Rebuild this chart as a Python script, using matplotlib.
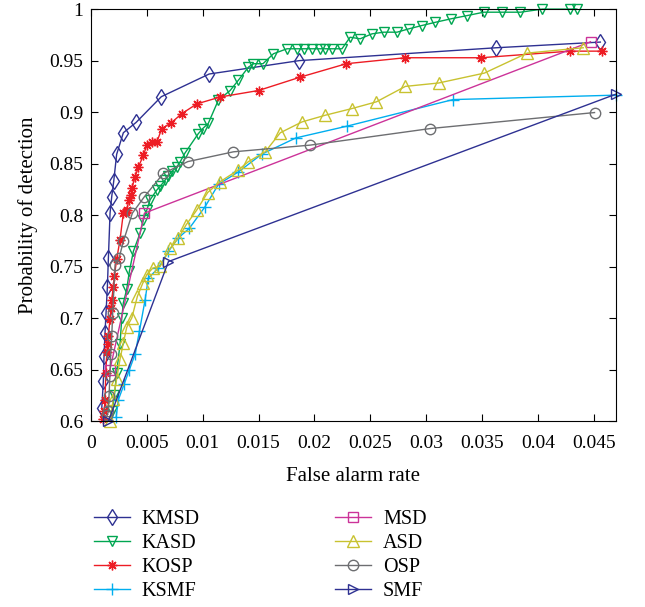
import matplotlib
matplotlib.use("Agg")
import matplotlib.pyplot as plt
import numpy as np
from matplotlib.ticker import FormatStrFormatter

plt.rcParams["font.family"] = ["Liberation Serif", "DejaVu Serif"]

# ---- data -----------------------------------------------------------------
kmsd_x = [0.00097, 0.00111, 0.00117, 0.00126, 0.00135, 0.00147, 0.00156, 0.00171,
          0.00186, 0.00204, 0.0023, 0.0029, 0.00404, 0.0063, 0.01058, 0.01865,
          0.0363, 0.0456]
kmsd_y = [0.613, 0.639, 0.663, 0.686, 0.705, 0.730, 0.758, 0.802,
          0.818, 0.833, 0.859, 0.880, 0.890, 0.915, 0.937, 0.950,
          0.9625, 0.968]

kasd_x = [0.0019, 0.0021, 0.0023, 0.0026, 0.00276, 0.0029, 0.0032, 0.00344, 0.0038,
          0.0044, 0.0047, 0.005, 0.0053, 0.0059, 0.0062, 0.00664, 0.0069, 0.0073,
          0.0077, 0.008, 0.0084, 0.0096, 0.0100, 0.0105, 0.0114, 0.01246, 0.0132,
          0.0141, 0.01455, 0.0154, 0.01634, 0.01755, 0.01844, 0.01903, 0.01978,
          0.02053, 0.02098, 0.02158, 0.02247, 0.0232, 0.0241, 0.02516, 0.0262,
          0.0274, 0.02844, 0.0296, 0.03083, 0.0322, 0.03367, 0.03516, 0.0368,
          0.03845, 0.0404, 0.0429, 0.0435]
kasd_y = [0.61, 0.625, 0.647, 0.6746, 0.700, 0.715, 0.728, 0.7455, 0.765,
          0.7826, 0.7955, 0.805, 0.815, 0.8245, 0.828, 0.834, 0.838, 0.843,
          0.847, 0.852, 0.86, 0.879, 0.884, 0.889, 0.9115, 0.921, 0.931,
          0.9437, 0.947, 0.947, 0.9567, 0.9615, 0.9615, 0.9615, 0.9615,
          0.9615, 0.9615, 0.9615, 0.9615, 0.9727, 0.9712, 0.976, 0.9776,
          0.9776, 0.9808, 0.984, 0.9872, 0.9905, 0.9937, 0.997, 0.997,
          0.997, 1.0, 1.0, 1.0]

kosp_x = [0.00111, 0.0012, 0.00126, 0.00133, 0.00142, 0.0015, 0.00156, 0.0017,
          0.0018, 0.00186, 0.002, 0.0021, 0.0023, 0.0026, 0.0029, 0.0031, 0.0032,
          0.0034, 0.0036, 0.00365, 0.00395, 0.00425, 0.0047, 0.005, 0.00545,
          0.0059, 0.00634, 0.00718, 0.00814, 0.00948, 0.01157, 0.015, 0.01874,
          0.02286, 0.02815, 0.03493, 0.04287, 0.04577]
kosp_y = [0.602, 0.61, 0.621, 0.647, 0.667, 0.675, 0.683, 0.699,
          0.71, 0.718, 0.73, 0.741, 0.757, 0.776, 0.802, 0.803, 0.805,
          0.815, 0.82, 0.826, 0.837, 0.847, 0.858, 0.868, 0.871,
          0.871, 0.884, 0.8896, 0.8986, 0.908, 0.9147, 0.921, 0.934,
          0.947, 0.9528, 0.9528, 0.9592, 0.9592]

ksmf_x = [0.00225, 0.00246, 0.00297, 0.00344, 0.00395, 0.00434, 0.00485, 0.00514,
          0.00604, 0.00694, 0.00783, 0.00882, 0.01022, 0.01142, 0.0132, 0.0153,
          0.01835, 0.02292, 0.03242, 0.047]
ksmf_y = [0.6037, 0.621, 0.636, 0.650, 0.665, 0.6874, 0.718, 0.739,
          0.7487, 0.765, 0.778, 0.7874, 0.8083, 0.830, 0.842, 0.8593,
          0.875, 0.8864, 0.9122, 0.9165]

msd_x = [0.0017, 0.00479, 0.04472]
msd_y = [0.650, 0.802, 0.9683]

asd_x = [0.0017, 0.002, 0.0023, 0.0026, 0.0029, 0.0032, 0.00366, 0.00416, 0.00464,
         0.005, 0.00554, 0.0062, 0.0071, 0.00783, 0.00852, 0.00948, 0.01045,
         0.01157, 0.0132, 0.0141, 0.0156, 0.01695, 0.01889, 0.02098, 0.02337,
         0.02555, 0.02815, 0.03113, 0.03522, 0.03905, 0.04407]
asd_y = [0.6, 0.6214, 0.641, 0.660, 0.676, 0.691, 0.7004, 0.7213, 0.734,
         0.7423, 0.7487, 0.7503, 0.768, 0.7778, 0.7906, 0.8051, 0.822,
         0.8325, 0.844, 0.852, 0.8615, 0.880, 0.8905, 0.897, 0.9035,
         0.910, 0.925, 0.9283, 0.9379, 0.9573, 0.9625]

osp_x = [0.00147, 0.00156, 0.00162, 0.0017, 0.00177, 0.00186, 0.00195, 0.00216,
         0.00252, 0.0029, 0.00371, 0.00479, 0.00649, 0.00867, 0.01276, 0.01963,
         0.03039, 0.04508]
osp_y = [0.606, 0.61, 0.6246, 0.644, 0.665, 0.6826, 0.705, 0.752,
         0.7584, 0.7745, 0.802, 0.818, 0.8406, 0.852, 0.8615, 0.868,
         0.8841, 0.8996]

smf_x = [0.00156, 0.00694, 0.047]
smf_y = [0.6, 0.755, 0.9175]

labels = ["KMSD", "KASD", "KOSP", "KSMF", "MSD", "ASD", "OSP", "SMF"]

# ---- styles ---------------------------------------------------------------
BLUE = "#2E3192"
styles = [
    dict(color=BLUE, marker="d", ms=8),
    dict(color="#00A651", marker="v", ms=7.5),
    dict(color="#ED1C24", marker=(8, 2, 0), ms=7),
    dict(color="#00AEEF", marker="+", ms=8),
    dict(color="#CC3399", marker="s", ms=6.5),
    dict(color="#C8C230", marker="^", ms=8),
    dict(color="#6D6E71", marker="o", ms=7.5),
    dict(color=BLUE, marker=">", ms=7.5),
]
series = [(kmsd_x, kmsd_y), (kasd_x, kasd_y), (kosp_x, kosp_y), (ksmf_x, ksmf_y),
          (msd_x, msd_y), (asd_x, asd_y), (osp_x, osp_y), (smf_x, smf_y)]

fig = plt.figure(figsize=(6.45, 6.07), dpi=100)
ax = fig.add_axes([0.141, 0.306, 0.814, 0.679])

handles = []
for (x, y), st, lab in zip(series, styles, labels):
    h, = ax.plot(x, y, color=st["color"], marker=st["marker"], ms=st["ms"],
                 mfc="none", mec=st["color"], mew=1.0, lw=1.0,
                 label=lab, clip_on=False)
    handles.append(h)

ax.set_xlim(0, 0.047)
ax.set_ylim(0.6, 1.0)
ax.set_xticks(np.arange(0, 0.0451, 0.005))
ax.set_yticks(np.arange(0.6, 1.0001, 0.05))
ax.xaxis.set_major_formatter(FormatStrFormatter("%g"))
ax.yaxis.set_major_formatter(FormatStrFormatter("%g"))
ax.tick_params(direction="in", top=True, right=True, length=5, width=0.8,
               labelsize=14)
ax.tick_params(axis="y", pad=5.5)
ax.tick_params(axis="x", pad=10)
for s in ax.spines.values():
    s.set_linewidth(0.8)

ax.set_xlabel("False alarm rate", fontsize=15, labelpad=11)
ax.set_ylabel("Probability of detection", fontsize=15, labelpad=8)

fig.legend(handles=handles, labels=labels, loc="upper left",
           bbox_to_anchor=(0.145, 0.16), ncol=2, frameon=False,
           fontsize=14.5, handlelength=1.8, handletextpad=0.6,
           columnspacing=6.7, labelspacing=0.25, borderpad=0,
           borderaxespad=0)

fig.savefig("out.png", dpi=100)
